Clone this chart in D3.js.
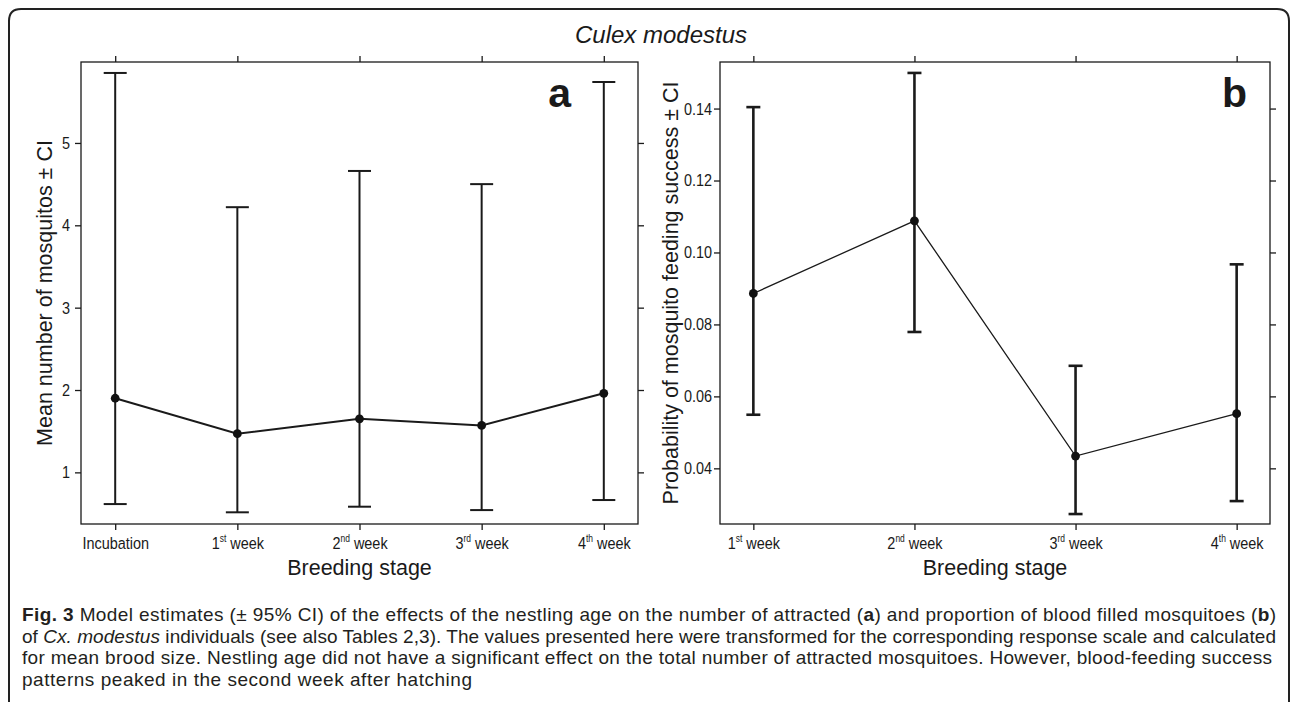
<!DOCTYPE html>
<html>
<head>
<meta charset="utf-8">
<script src="https://cdn.jsdelivr.net/npm/d3@7"></script>
<style>
  body { margin: 0; background: #fff; }
  svg text { font-family: "Liberation Sans", Arial, sans-serif; fill: #1a1a1a; }
  .tick line { stroke: #1a1a1a; stroke-width: 1.3; }
  .domain { display: none; }
  .caption text { font-family: "Liberation Sans", Arial, sans-serif; fill: #231f20; }
</style>
</head>
<body>
<svg id="fig" width="1290" height="702"></svg>
<script>
// Panel a: number of attracted mosquitoes
var stagesA = ["Incubation", "1st week", "2nd week", "3rd week", "4th week"];
var meanA  = [1.90, 1.47, 1.65, 1.57, 1.96];
var lowerA = [0.615, 0.515, 0.583, 0.542, 0.664];
var upperA = [5.85, 4.22, 4.66, 4.50, 5.74];
var ticksA = [1, 2, 3, 4, 5];

// Panel b: blood-feeding success
var stagesB = ["1st week", "2nd week", "3rd week", "4th week"];
var meanB  = [0.0886, 0.1088, 0.0434, 0.0552];
var lowerB = [0.0549, 0.0779, 0.0273, 0.0309];
var upperB = [0.1404, 0.1499, 0.0685, 0.0967];
var ticksB = [0.04, 0.06, 0.08, 0.10, 0.12, 0.14];

var svg = d3.select("#fig");

// outer frame with rounded top corners
svg.append("path")
  .attr("d", "M9,706 V21 Q9,9 21,9 H1277 Q1289,9 1289,21 V706")
  .attr("fill", "none")
  .attr("stroke", "#222")
  .attr("stroke-width", 2);

// species title
svg.append("text")
  .attr("x", 661).attr("y", 43)
  .attr("text-anchor", "middle")
  .style("font-style", "italic")
  .style("font-size", "24px")
  .text("Culex modestus");

function drawPanel(opt) {
  var x = d3.scalePoint().domain(opt.stages).range([opt.left, opt.right]).padding(opt.pad);
  var y = d3.scaleLinear().domain(opt.yDomain).range([opt.bottom, opt.top]);
  var g = svg.append("g");

  // plot box
  g.append("rect")
    .attr("x", opt.left).attr("y", opt.top)
    .attr("width", opt.right - opt.left).attr("height", opt.bottom - opt.top)
    .attr("fill", "none").attr("stroke", "#1a1a1a").attr("stroke-width", 1.3);

  // left axis with labels (narrow numbers)
  var yl = g.append("g")
    .attr("transform", `translate(${opt.left},0)`)
    .call(d3.axisLeft(y).tickValues(opt.ticks).tickFormat(opt.fmt).tickSize(6).tickPadding(0));
  yl.selectAll("text")
    .attr("x", -opt.labGap / 0.85)
    .attr("transform", "scale(0.85,1)")
    .style("font-size", "17px");

  // right, top ticks without labels
  g.append("g")
    .attr("transform", `translate(${opt.right},0)`)
    .call(d3.axisRight(y).tickValues(opt.ticks).tickFormat("").tickSize(6));
  g.append("g")
    .attr("transform", `translate(0,${opt.top})`)
    .call(d3.axisTop(x).tickFormat("").tickSize(6));

  // bottom axis with superscript ordinals
  var xb = g.append("g")
    .attr("transform", `translate(0,${opt.bottom})`)
    .call(d3.axisBottom(x).tickSize(6));
  xb.selectAll("text").each(function(d) {
    var t = d3.select(this);
    t.text(null).attr("y", 25).attr("dy", null)
      .attr("transform", "scale(0.85,1)")
      .style("font-size", "17px");
    var m = d.match(/^(\d)(st|nd|rd|th) (.*)$/);
    if (m) {
      t.append("tspan").text(m[1]);
      t.append("tspan").text(m[2]).style("font-size", "10px").attr("dy", -7);
      t.append("tspan").text(" " + m[3]).attr("dy", 7);
    } else {
      t.text(d);
    }
  });

  var idx = d3.range(opt.stages.length);

  // error bars
  g.append("g").selectAll("line")
    .data(idx).join("line")
    .attr("x1", i => x(opt.stages[i])).attr("x2", i => x(opt.stages[i]))
    .attr("y1", i => y(opt.lower[i])).attr("y2", i => y(opt.upper[i]))
    .attr("stroke", "#1a1a1a").attr("stroke-width", opt.barW);
  ["lower", "upper"].forEach(function(k) {
    g.append("g").selectAll("line")
      .data(idx).join("line")
      .attr("x1", i => x(opt.stages[i]) - opt.cap).attr("x2", i => x(opt.stages[i]) + opt.cap)
      .attr("y1", i => y(opt[k][i])).attr("y2", i => y(opt[k][i]))
      .attr("stroke", "#1a1a1a").attr("stroke-width", opt.barW);
  });

  // mean line and points
  var line = d3.line().x(i => x(opt.stages[i])).y(i => y(opt.means[i]));
  g.append("path").datum(idx)
    .attr("d", line).attr("fill", "none")
    .attr("stroke", "#1a1a1a").attr("stroke-width", opt.lineW);
  g.append("g").selectAll("circle")
    .data(idx).join("circle")
    .attr("cx", i => x(opt.stages[i])).attr("cy", i => y(opt.means[i]))
    .attr("r", 4.4).attr("fill", "#111");

  // axis titles
  g.append("text")
    .attr("transform", `translate(${opt.titleX},${(opt.top + opt.bottom) / 2}) rotate(-90)`)
    .attr("text-anchor", "middle").attr("dy", "0.35em")
    .style("font-size", "21.5px")
    .text(opt.yTitle);
  g.append("text")
    .attr("x", (opt.left + opt.right) / 2).attr("y", 575)
    .attr("text-anchor", "middle")
    .style("font-size", "21.5px")
    .text("Breeding stage");

  // panel letter
  g.append("text")
    .attr("x", opt.letterX).attr("y", 107)
    .attr("text-anchor", "end")
    .style("font-size", "41px").style("font-weight", "bold")
    .text(opt.letter);
}

drawPanel({
  stages: stagesA, means: meanA, lower: lowerA, upper: upperA, ticks: ticksA,
  fmt: d3.format("d"), yDomain: [0.373, 5.983],
  left: 81, right: 638, top: 62, bottom: 524, pad: 0.28,
  labGap: 11, cap: 11.5, barW: 2, lineW: 2,
  titleX: 44, yTitle: "Mean number of mosquitos \u00b1 CI",
  letter: "a", letterX: 571
});

drawPanel({
  stages: stagesB, means: meanB, lower: lowerB, upper: upperB, ticks: ticksB,
  fmt: d3.format(".2f"), yDomain: [0.02453, 0.15294],
  left: 720, right: 1270, top: 62, bottom: 524, pad: 0.207,
  labGap: 8, cap: 7, barW: 2.6, lineW: 1.3,
  titleX: 670, yTitle: "Probability of mosquito feeding success \u00b1 CI",
  letter: "b", letterX: 1247
});

// figure caption
var cap = svg.append("g").attr("class", "caption").style("font-size", "19px");

var l1 = cap.append("text").attr("x", 22).attr("y", 621)
  .attr("textLength", 1254).attr("lengthAdjust", "spacing");
l1.append("tspan").style("font-weight", "bold").text("Fig. 3");
l1.append("tspan").text(" Model estimates (\u00b1 95% CI) of the effects of the nestling age on the number of attracted (");
l1.append("tspan").style("font-weight", "bold").text("a");
l1.append("tspan").text(") and proportion of blood filled mosquitoes (");
l1.append("tspan").style("font-weight", "bold").text("b");
l1.append("tspan").text(")");

var l2 = cap.append("text").attr("x", 22).attr("y", 642.7)
  .attr("textLength", 1254).attr("lengthAdjust", "spacing");
l2.append("tspan").text("of ");
l2.append("tspan").style("font-style", "italic").text("Cx. modestus");
l2.append("tspan").text(" individuals (see also Tables 2,3). The values presented here were transformed for the corresponding response scale and calculated");

cap.append("text").attr("x", 22).attr("y", 664.4)
  .attr("textLength", 1250).attr("lengthAdjust", "spacing")
  .text("for mean brood size. Nestling age did not have a significant effect on the total number of attracted mosquitoes. However, blood-feeding success");

cap.append("text").attr("x", 22).attr("y", 686.1)
  .attr("textLength", 450).attr("lengthAdjust", "spacing")
  .text("patterns peaked in the second week after hatching");
</script>
</body>
</html>
